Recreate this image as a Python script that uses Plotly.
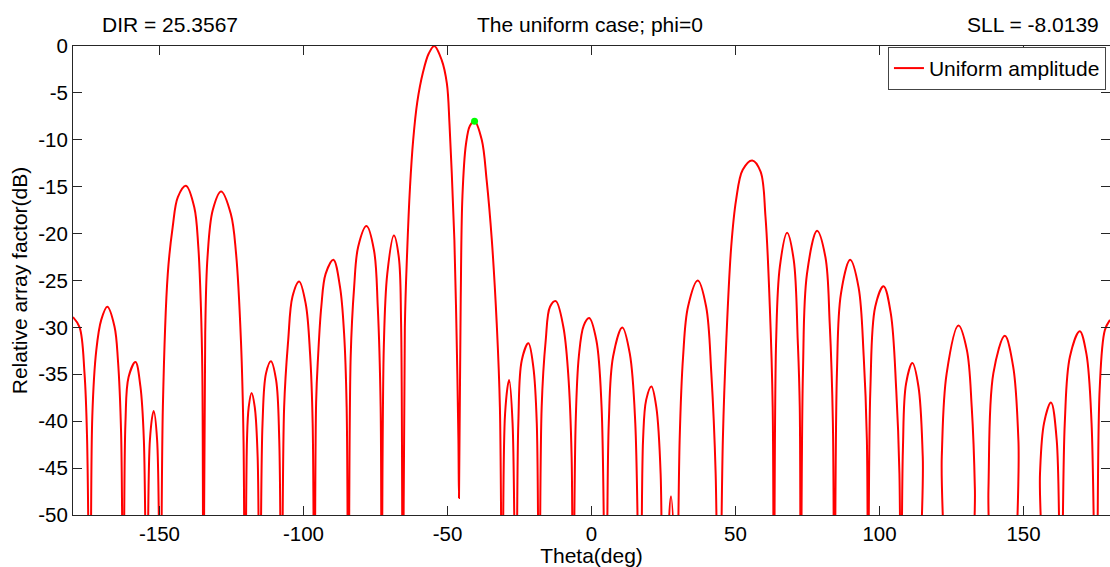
import plotly.graph_objects as go

# Array factor (theta in deg, relative AF in dB)
theta = [
    -180.0, -177.7, -176.0, -175.1, -174.0, -173.3, -171.9, -170.2, -168.1, -165.6, -164.4, -163.3,
    -162.5, -161.8, -160.7, -158.3, -156.6, -155.4, -154.3, -153.3, -152.0, -150.8, -149.7,
    -148.8, -147.1, -145.4, -143.6, -140.8, -137.9, -136.5, -135.6, -135.1, -134.7,
    -134.1, -133.3, -131.5, -128.6, -125.2, -123.4, -121.7, -120.8, -120.3,
    -119.6, -119.0, -118.0, -116.9, -115.9, -115.2,
    -114.2, -113.0, -111.3, -109.5, -108.4, -107.6,
    -106.7, -105.3, -103.8, -101.5, -99.2, -97.7, -96.8, -96.2,
    -95.6, -94.9, -93.8, -92.3, -89.6, -87.3, -85.9, -85.0, -84.4,
    -83.6, -82.4, -81.0, -78.1, -75.5, -74.2, -73.2, -72.9,
    -72.1, -70.9, -68.6, -66.9, -66.1, -65.5,
    -64.8, -64.0, -63.0, -61.9, -60.5, -58.5, -56.5, -54.6, -52.0, -50.2, -49.3, -48.5, -47.6,
    -46.8, -46.2, -46.0,
    -45.4, -44.8, -43.6, -42.2, -40.6, -38.1, -36.4, -34.6, -32.9, -31.8, -30.9,
    -30.0, -28.6, -27.4, -26.2,
    -25.4, -24.2, -21.9, -20.2, -19.0, -18.2,
    -17.3, -15.9, -14.4, -12.4, -9.8, -8.1, -6.9, -6.5,
    -5.5, -4.4, -2.7, -0.8, 1.7, 3.5, 5.0,
    6.0, 7.5, 10.7, 13.3, 15.2, 17.0,
    17.9, 19.0, 20.8, 22.5, 24.0, 24.8,
    26.3, 27.6, 28.9, 29.4,
    30.6, 31.8, 33.5, 36.9, 39.8, 41.6, 43.1, 44.2,
    45.6, 46.8, 48.5, 50.2, 52.5, 55.8, 58.7, 60.4, 61.9, 62.9, 63.3,
    64.1, 65.4, 67.9, 70.2, 71.6, 72.3, 72.6,
    73.4, 74.8, 78.3, 81.2, 82.7, 83.8, 84.3,
    85.2, 86.6, 89.8, 92.7, 94.5, 95.6, 96.0,
    96.8, 98.5, 101.4, 103.9, 105.8, 106.9, 107.4,
    108.1, 109.2, 111.4, 113.5, 115.0, 116.1,
    120.9, 121.6, 123.3, 127.4, 130.3, 132.0, 133.1, 133.5,
    137.4, 137.8, 139.5, 143.5, 146.4, 148.2, 149.9,
    155.2, 155.7, 157.1, 159.5, 161.5, 162.9,
    164.3, 166.1, 169.5, 171.8, 173.6, 175.3,
    176.4, 178.2, 180.0,
]
af_db = [
    -28.9, -30.0, -34.9, -42.0, -70, -39.5, -32.4, -29.2, -27.8, -29.9, -33.5, -41.3,
    -70, -40.2, -35.3, -33.7, -36.3, -42.0, -70, -42.0, -38.9, -42.0, -70,
    -38.5, -24.3, -19.3, -16.1, -14.9, -17.2, -21.4, -27.8, -34.9, -70,
    -30.6, -22.5, -17.5, -15.5, -17.9, -22.1, -31.4, -42.0, -70,
    -42.0, -38.5, -37.0, -38.5, -43.8, -70,
    -40.2, -34.9, -33.6, -35.6, -42.0, -70,
    -38.5, -31.4, -26.7, -25.1, -27.5, -32.8, -40.2, -70,
    -38.0, -33.0, -27.8, -24.3, -22.8, -25.7, -30.6, -38.5, -70,
    -33.1, -25.7, -21.4, -19.2, -21.8, -27.8, -38.5, -70,
    -32.1, -24.3, -20.2, -22.5, -29.6, -70,
    -30.0, -22.0, -15.0, -10.0, -6.0, -2.8, -0.8, 0.0, -1.5, -4.0, -8.3, -13.6, -20.7,
    -31.4, -42.0, -48.2,
    -27.0, -16.0, -10.5, -8.5, -8.0139, -10.0, -14.3, -20.7, -29.6, -38.5, -70,
    -39.2, -35.6, -40.2, -70,
    -40.2, -33.5, -31.7, -34.2, -40.2, -70,
    -38.5, -31.4, -27.8, -27.2, -29.9, -34.9, -43.8, -70,
    -40.2, -33.1, -29.8, -29.0, -31.4, -38.5, -70,
    -40.2, -33.1, -30.0, -32.8, -40.2, -70,
    -42.0, -37.7, -36.3, -38.5, -45.6, -70,
    -55.0, -48.0, -55.0, -70,
    -42.0, -33.1, -27.8, -25.0, -27.8, -34.9, -45.6, -70,
    -42.0, -31.4, -21.4, -16.4, -13.2, -12.2, -13.4, -18.2, -27.8, -38.5, -70,
    -31.4, -23.5, -19.9, -22.8, -31.4, -38.5, -70,
    -34.9, -24.3, -19.7, -22.5, -29.6, -40.2, -70,
    -34.9, -26.4, -22.8, -25.7, -33.1, -42.0, -70,
    -36.7, -27.8, -25.6, -28.5, -36.7, -45.6, -70,
    -43.1, -36.0, -33.8, -36.3, -43.8, -70,
    -70, -43.8, -34.9, -29.8, -32.4, -38.5, -47.3, -70,
    -70, -47.3, -34.9, -30.9, -34.2, -42.0, -70,
    -70, -45.6, -40.2, -38.0, -42.0, -70,
    -40.2, -33.1, -30.4, -32.8, -40.2, -70,
    -36.7, -30.3, -29.2,
]

sll_theta = [-40.6]
sll_db = [-8.0139]

x_ticks = [-150, -100, -50, 0, 50, 100, 150]
y_ticks = [0, -5, -10, -15, -20, -25, -30, -35, -40, -45, -50]

FONT = "Liberation Sans, Arial, sans-serif"
AX = "#262626"

fig = go.Figure()
fig.add_trace(go.Scatter(
    x=theta, y=af_db, mode="lines", name="Uniform amplitude",
    line=dict(color="#ff0000", width=2, shape="spline", smoothing=1.0),
))
fig.add_trace(go.Scatter(
    x=sll_theta, y=sll_db, mode="markers", showlegend=False,
    marker=dict(color="#00ff00", size=7, line=dict(width=0)),
))

fig.update_layout(
    width=1110, height=567,
    margin=dict(l=73, r=0, t=46, b=52),
    paper_bgcolor="white", plot_bgcolor="white",
    font=dict(family=FONT, size=21, color="#000000"),
    showlegend=True,
    legend=dict(
        x=0.9961, y=0.998, xanchor="right", yanchor="top",
        bgcolor="white", bordercolor="#444444", borderwidth=1,
        font=dict(family=FONT, size=21, color="#000000"),
        tracegroupgap=0, itemwidth=30,
    ),
    xaxis=dict(
        range=[-180, 180], tickvals=x_ticks, ticktext=[str(v) for v in x_ticks],
        showgrid=False, zeroline=False, showline=True, linecolor=AX, linewidth=1,
        mirror="ticks", ticks="inside", ticklen=9, tickcolor=AX,
        tickfont=dict(family=FONT, size=20.5, color="#000000"),
        title=dict(text="Theta(deg)", font=dict(family=FONT, size=21), standoff=0),
    ),
    yaxis=dict(
        range=[-50, 0], tickvals=y_ticks, ticktext=[str(v) for v in y_ticks],
        showgrid=False, zeroline=False, showline=True, linecolor=AX, linewidth=1,
        mirror="ticks", ticks="inside", ticklen=9, tickcolor=AX,
        tickfont=dict(family=FONT, size=20.5, color="#000000"),
        title=dict(text="Relative array factor(dB)", font=dict(family=FONT, size=21), standoff=4),
    ),
    annotations=[
        dict(text="DIR = 25.3567", xref="paper", yref="paper", x=0.026, y=1.045,
             xanchor="left", yanchor="middle", showarrow=False, font=dict(size=21)),
        dict(text="The uniform case; phi=0", xref="paper", yref="paper", x=0.4985, y=1.045,
             xanchor="center", yanchor="middle", showarrow=False, font=dict(size=21)),
        dict(text="SLL = -8.0139", xref="paper", yref="paper", x=0.9913, y=1.045,
             xanchor="right", yanchor="middle", showarrow=False, font=dict(size=21)),
    ],
)

fig.write_html("out.html")
